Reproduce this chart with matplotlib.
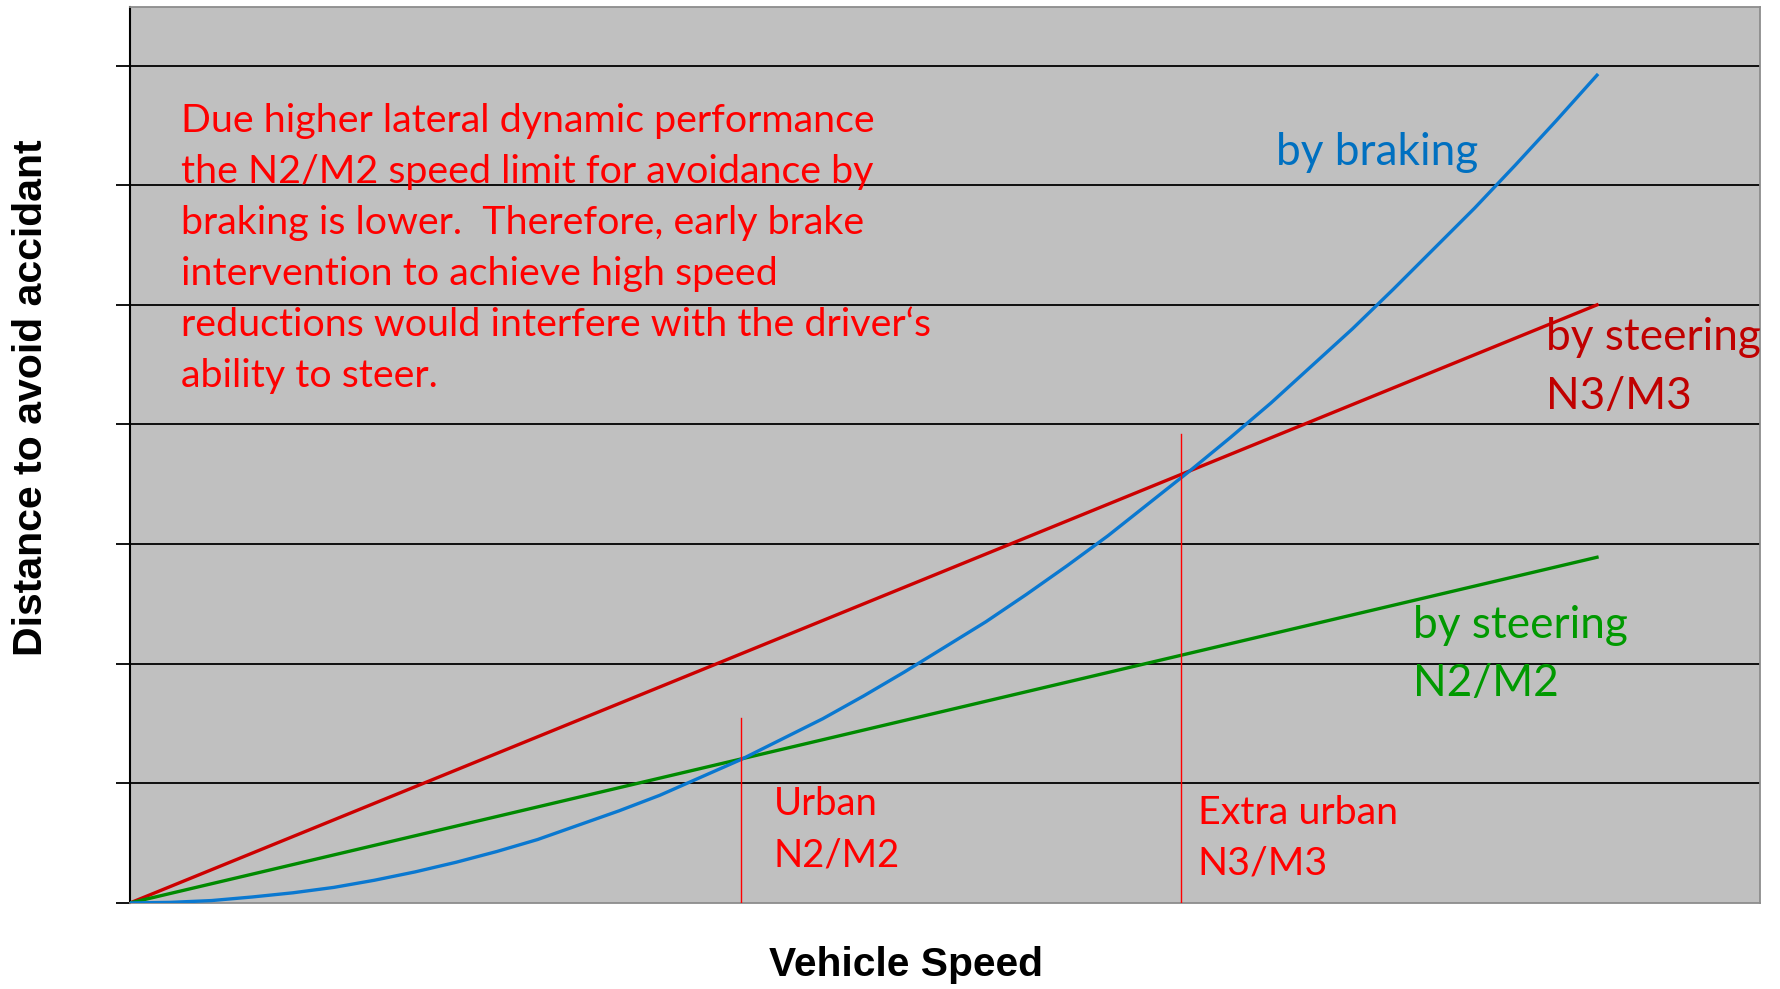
import numpy as np
import matplotlib.pyplot as plt

# speed (arbitrary units) and distance (arbitrary units)
speed_lin = [0, 90]
steer_n3 = [0, 5.0]
steer_n2 = [0, 2.89]

speed_brake = [0, 2.5, 5, 7.5, 10, 12.5, 15, 17.5, 20, 22.5, 25, 27.5, 30, 32.5, 35,
               37.5, 40, 42.5, 45, 47.5, 50, 52.5, 55, 57.5, 60, 62.5, 65, 67.5, 70,
               72.5, 75, 77.5, 80, 82.5, 85, 87.5, 90]
brake = [0, 0.005, 0.02, 0.05, 0.085, 0.13, 0.19, 0.26, 0.34, 0.43, 0.53, 0.65,
         0.77, 0.90, 1.05, 1.20, 1.37, 1.54, 1.73, 1.93, 2.14, 2.35, 2.58, 2.82,
         3.07, 3.34, 3.61, 3.89, 4.18, 4.49, 4.80, 5.13, 5.47, 5.81, 6.17, 6.54, 6.92]

limit_x = [37.5, 64.5]
limit_top = [1.55, 3.92]
grid_levels = [0, 1, 2, 3, 4, 5, 6, 7]

note = ("Due higher lateral dynamic performance\n"
        "the N2/M2 speed limit for avoidance by\n"
        "braking is lower.  Therefore, early brake\n"
        "intervention to achieve high speed\n"
        "reductions would interfere with the driver\u2018s\n"
        "ability to steer.")

fig = plt.figure(figsize=(17.81, 9.89), dpi=100)
ax = fig.add_axes([0.0730, 0.0870, 0.9152, 0.9059])
ax.set_facecolor('#c0c0c0')
ax.set_xlim(0, 100)
ax.set_ylim(0, 7.49)

for g in grid_levels[1:]:
    ax.axhline(g, color='black', lw=1.3, zorder=1)

ax.set_yticks(grid_levels)
ax.set_yticklabels([])
ax.set_xticks([])
ax.tick_params(axis='y', length=10, width=1.3, color='black')
for s in ['top', 'right', 'bottom']:
    ax.spines[s].set_color('#8c8c8c')
    ax.spines[s].set_linewidth(1.3)
ax.spines['left'].set_color('black')
ax.spines['left'].set_linewidth(1.5)

ax.plot(speed_lin, steer_n3, color='#cc0000', lw=2.4, zorder=3)
ax.plot(speed_lin, steer_n2, color='#008a00', lw=2.4, zorder=3)
ax.plot(speed_brake, brake, color='#0a78d0', lw=2.4, zorder=3)
for xv, top in zip(limit_x, limit_top):
    ax.plot([xv, xv], [0, top], color='#ff0000', lw=1.0, zorder=4)

fnt = 'Lato'
fs = 28.4
fs_big = 31.8
ls = 1.52
ax.text(3.1, 5.47, note, color='#ff0000', fontsize=fs, family=fnt,
        va='center', ha='left', linespacing=ls)
ax.text(70.3, 6.27, 'by braking', color='#0070c0', fontsize=fs_big, family=fnt, va='center')
ax.text(86.9, 4.48, 'by steering\nN3/M3', color='#c00000', fontsize=fs_big, family=fnt,
        va='center', linespacing=ls)
ax.text(78.7, 2.08, 'by steering\nN2/M2', color='#009900', fontsize=fs_big, family=fnt,
        va='center', linespacing=ls)
ax.text(39.5, 0.61, 'Urban\nN2/M2', color='#ff0000', fontsize=27.5, family=fnt,
        va='center', linespacing=ls)
ax.text(65.5, 0.54, 'Extra urban\nN3/M3', color='#ff0000', fontsize=fs, family=fnt,
        va='center', linespacing=ls)

fig.text(31 / 1781, 1 - 398 / 989, 'Distance to avoid accidant', rotation=90,
         fontsize=29.5, fontweight='bold', family='Liberation Sans',
         ha='center', va='center')
fig.text(906 / 1781, 1 - 965 / 989, 'Vehicle Speed', fontsize=29.3, fontweight='bold',
         family='Liberation Sans', ha='center', va='center')

fig.savefig('out.png', dpi=100)
